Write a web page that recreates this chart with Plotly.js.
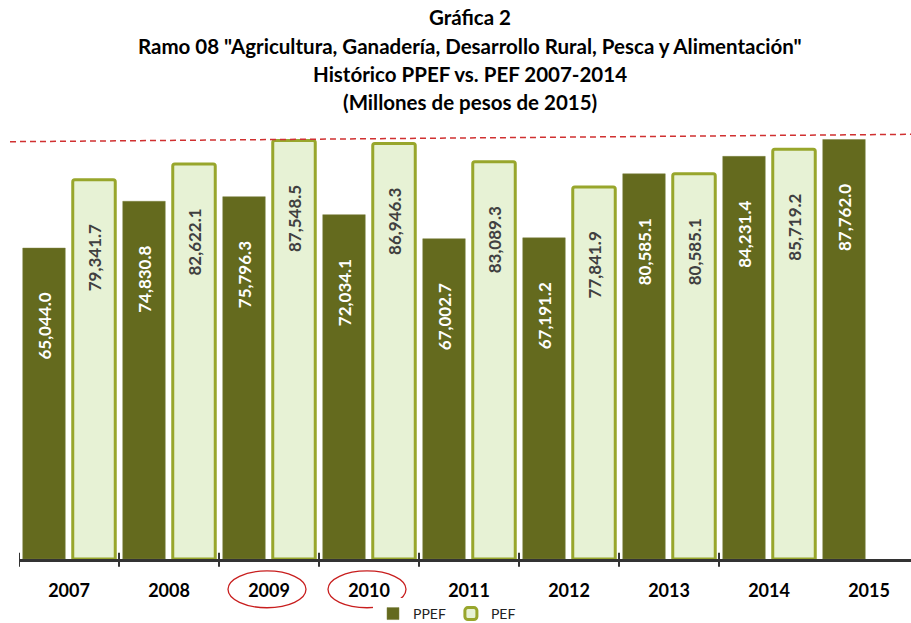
<!DOCTYPE html>
<html>
<head>
<meta charset="utf-8">
<script src="https://cdn.plot.ly/plotly-3.0.1.min.js"></script>
<style>html,body{margin:0;padding:0;background:#fff;}#chart{width:911px;height:623px;}</style>
</head>
<body>
<div id="chart"></div>
<script>
const years = ['2007','2008','2009','2010','2011','2012','2013','2014','2015'];
const ppef = [65044.0, 74830.8, 75796.3, 72034.1, 67002.7, 67191.2, 80585.1, 84231.4, 87762.0];
const pef = [79341.7, 82622.1, 87548.5, 86946.3, 83089.3, 77841.9, 80585.1, 85719.2, null];
const titleLines = [
  'Gráfica 2',
  'Ramo 08 "Agricultura, Ganadería, Desarrollo Rural, Pesca y Alimentación"',
  'Histórico PPEF vs. PEF 2007-2014',
  '(Millones de pesos de 2015)'
];
const highlighted = ['2009','2010'];

const fmt = v => v == null ? '' : v.toLocaleString('en-US',{minimumFractionDigits:1,maximumFractionDigits:1}) + '\u00a0'.repeat(10);

const DARK = '#646a1e', LIGHT = '#e7f2d5', BORDER = '#98a62c';
const FONT = 'Lato, "Open Sans", sans-serif';

const traces = [
  {type:'bar', name:'PPEF', x:years, y:ppef, text:ppef.map(fmt),
   textposition:'inside', insidetextanchor:'end', textangle:-90,
   textfont:{family:FONT, size:17, color:'#ffffff', weight:'bold'},
   marker:{color:DARK, line:{color:'#7c8240', width:0.5}}, hoverinfo:'skip'},
  {type:'bar', name:'PEF', x:years, y:pef, text:pef.map(fmt),
   textposition:'inside', insidetextanchor:'end', textangle:-90,
   textfont:{family:FONT, size:17, color:'#404040', weight:'bold'},
   marker:{color:LIGHT, line:{color:BORDER, width:3}, cornerradius:2}, hoverinfo:'skip'}
];

const shapes = [];
for (let k = 0; k < years.length - 1; k++) {
  shapes.push({type:'line', xref:'x', yref:'paper', x0:k-0.5, x1:k-0.5, y0:0.013, y1:-0.016,
    line:{color:'#333333', width:2}});
}
shapes.push({type:'line', xref:'paper', yref:'paper', x0:-0.0101, x1:1.0, y0:0.873, y1:0.8885,
  line:{color:'#d03030', width:1.5, dash:'6px,4px'}});
highlighted.forEach(h => {
  const i = years.indexOf(h);
  shapes.push({type:'circle', xref:'x', yref:'paper', x0:i-0.41, x1:i+0.37, y0:-0.102, y1:-0.025,
    line:{color:'#c81e1e', width:1.3}});
});

const titleY = [1.134, 1.073, 1.015, 0.956];
const annotations = titleLines.map((t,i) => ({
  text:'<b>'+t+'</b>', xref:'paper', yref:'paper', x:(470-19)/892, y:titleY[i],
  xanchor:'center', yanchor:'middle', showarrow:false,
  font:{family:FONT, size:20.5, color:'#000'}
}));

const layout = {
  width:911, height:623,
  margin:{l:19, r:0, t:81, b:64, autoexpand:false},
  paper_bgcolor:'#fff', plot_bgcolor:'#fff',
  barmode:'group', bargap:0, bargroupgap:0.15,
  showlegend:true,
  legend:{orientation:'h', x:(447-19)/892, xanchor:'center', y:-0.115, yanchor:'middle',
    font:{family:FONT, size:14, color:'#222'}, itemwidth:30, tracegroupgap:0},
  xaxis:{type:'category', range:[-0.5, 8.42], showline:true, linecolor:'#333333', linewidth:2.5,
    ticks:'', showgrid:false, zeroline:false, ticklabelstandoff:14,
    tickfont:{family:FONT, size:18, color:'#000', weight:'bold'}},
  yaxis:{range:[0,100000], visible:false, showgrid:false, zeroline:false},
  shapes:shapes, annotations:annotations,
  uniformtext:{mode:false}
};

Plotly.newPlot('chart', traces, layout, {displayModeBar:false, staticPlot:true});
</script>
</body>
</html>
